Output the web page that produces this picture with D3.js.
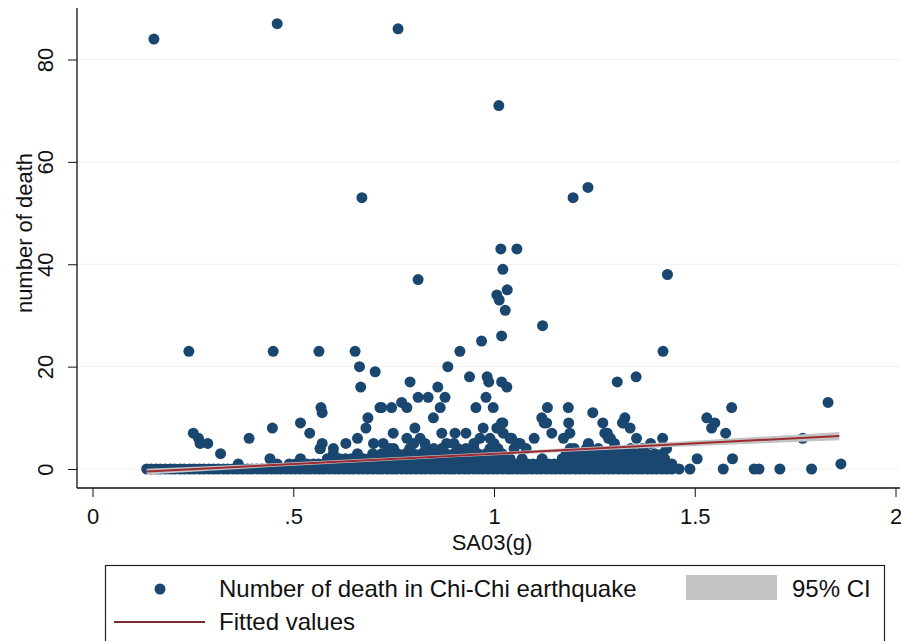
<!DOCTYPE html>
<html>
<head>
<meta charset="utf-8">
<title>SA03 vs deaths</title>
<script src="https://cdn.jsdelivr.net/npm/d3@7"></script>
<style>
  body { margin: 0; background: #fff; }
  text { font-family: Arial, "Liberation Sans", sans-serif; fill: #111; }
</style>
</head>
<body>
<script>
// values
var xTicks = [0, 0.5, 1, 1.5, 2];
var xTickLabels = ["0", ".5", "1", "1.5", "2"];
var yTicks = [0, 20, 40, 60, 80];

// scattered villages, [SA03(g), deaths]
var scatterPts = [
  [0.153,84],[0.46,87],[0.761,86],[1.012,71],[0.671,53],[1.197,53],[1.234,55],
  [1.017,43],[1.057,43],[1.022,39],[1.432,38],[0.811,37],[1.007,34],[1.033,35],
  [1.013,33],[1.028,31],[1.121,28],[1.019,26],[0.969,25],
  [0.24,23],[0.45,23],[0.564,23],[0.654,23],[1.421,23],[0.915,23],
  [0.665,20],[0.885,20],[0.704,19],[0.668,16],[0.939,18],[0.983,18],[1.354,18],
  [0.791,17],[0.987,17],[1.019,17],[1.032,16],[0.86,16],[1.307,17],
  [0.569,12],[0.572,11],[0.716,12],[0.72,12],[0.745,12],[0.783,12],[0.77,13],
  [0.811,14],[0.836,14],[0.878,14],[0.98,14],[0.866,12],[0.955,12],[0.998,12],
  [1.133,12],[1.185,12],[1.246,11],[1.592,12],[1.832,13],
  [0.251,7],[0.264,6],[0.268,5],[0.287,5],[0.319,3],[0.39,6],[0.448,8],[0.518,9],
  [0.541,7],[0.363,1],[0.567,4],[0.572,5],[0.6,4],[0.631,5],[0.66,6],
  [0.686,10],[0.681,8],[0.66,3],[0.849,10],[1.022,9],[0.973,8],[0.903,7],[0.93,7],
  [1.1,6],[1.061,5],[1.235,5],[1.119,10],[1.125,9],[1.186,9],[1.271,9],[1.282,7],
  [1.29,6],[1.53,10],[1.55,9],[1.542,8],[1.577,7],[1.326,10],[1.32,9],[1.339,8],
  [1.355,6],[1.281,7],[1.42,6],[1.769,6],[1.506,2],[1.594,2],[1.571,0],[1.648,0],
  [1.66,0],[1.712,0],[1.791,0],[1.864,1],[1.488,0],[1.461,0],
  [0.965,6],[1.007,8],[1.019,9],[1.023,7],[1.044,6],[1.065,5],[1.131,9],[1.144,7],
  [1.189,7],[1.173,6],[1.276,7],[1.285,6],[1.322,9],
  [0.724,5],[0.749,7],[0.783,6],[0.803,8],[0.816,6],[0.828,5],[0.87,7],[0.882,5],
  [0.99,6],[1.011,8],[1.04,6],[0.7,5],[0.74,4],[0.8,5],[0.85,4],[0.9,5],[0.93,4],
  [0.95,5],[1.0,5],[1.05,4],[1.08,4],[1.2,4],[1.24,4],[1.3,5],[1.34,4],[1.39,5],
  [1.43,4],[1.364,2],[1.33,3],[1.4,3]
];

// the packed band along the bottom: SA03 values at 0, 1, 2, 3 and 4 deaths
var band0 = [0.135,0.146,0.158,0.169,0.181,0.194,0.205,0.218,0.229,0.242,0.253,0.266,
  0.277,0.29,0.302,0.313,0.326,0.337,0.35,0.361,0.374,0.386,0.397,0.41,0.422,0.433,
  0.446,0.458,0.469,0.482,0.494,0.505,0.518,0.53,0.541,0.554,0.566,0.577,0.59,0.602,
  0.613,0.626,0.638,0.649,0.662,0.674,0.685,0.698,0.71,0.721,0.734,0.746,0.757,0.77,
  0.782,0.793,0.806,0.818,0.829,0.842,0.854,0.865,0.878,0.89,0.901,0.914,0.926,0.937,
  0.95,0.962,0.973,0.986,0.998,1.009,1.022,1.034,1.045,1.058,1.07,1.081,1.094,1.106,
  1.117,1.13,1.142,1.153,1.166,1.178,1.189,1.202,1.214,1.225,1.238,1.25,1.261,1.274,
  1.286,1.297,1.31,1.322,1.333,1.346,1.358,1.369,1.382,1.394,1.405,1.418,1.43,1.443];
var band1 = [0.46,0.49,0.505,0.52,0.535,0.55,0.563,0.577,0.59,0.603,0.616,0.63,0.643,
  0.656,0.67,0.683,0.697,0.71,0.723,0.737,0.75,0.763,0.777,0.79,0.803,0.817,0.83,0.843,
  0.857,0.87,0.883,0.897,0.91,0.923,0.937,0.95,0.963,0.977,0.99,1.003,1.017,1.03,1.043,
  1.057,1.07,1.083,1.097,1.11,1.123,1.137,1.15,1.163,1.177,1.19,1.203,1.217,1.23,1.243,
  1.257,1.27,1.283,1.297,1.31,1.323,1.337,1.35,1.363,1.377,1.39,1.403,1.417,1.43,1.443];
var band2 = [0.442,0.518,0.585,0.6,0.615,0.63,0.645,0.66,0.675,0.69,0.705,0.72,0.735,
  0.75,0.765,0.78,0.795,0.81,0.825,0.84,0.855,0.87,0.885,0.9,0.915,0.93,0.945,0.96,
  0.975,0.99,1.005,1.02,1.04,1.07,1.12,1.17,1.185,1.2,1.22,1.24,1.255,1.27,1.285,1.3,
  1.315,1.33,1.345,1.38,1.395,1.41,1.425];
var band3 = [0.6,0.698,0.72,0.74,0.76,0.78,0.8,0.82,0.84,0.86,0.88,0.9,0.92,0.94,0.96,
  0.98,1.0,1.02,1.18,1.2,1.22,1.25,1.27,1.29,1.31,1.326,1.345,1.36,1.38,1.42];
var band4 = [0.567,0.75,0.79,0.83,0.87,0.91,0.95,0.99,1.01,1.19,1.23,1.26,1.3,1.37];

// linear fit and its 95% band
var fitSA = [0.135, 1.86];
var fitDeaths = [-0.5, 6.45];
var ciSA = [0.135, 0.5, 0.9, 1.3, 1.86];
var ciLo = [-1.05, 0.62, 2.28, 3.79, 5.64];
var ciHi = [0.05, 1.32, 2.88, 4.59, 7.24];

var W = 901, H = 641;
var navy = "#1a476f", maroon = "#9e2a32", ciGray = "#c3c3c3";

var svg = d3.select("body").append("svg")
  .attr("width", W).attr("height", H);

var x = d3.scaleLinear().domain([0, 2]).range([92.5, 895.5]);
var y = d3.scaleLinear().domain([0, 80]).range([469, 59.5]);

// faint grid
svg.append("g").selectAll("line")
  .data(yTicks).enter().append("line")
    .attr("x1", 77).attr("x2", 900)
    .attr("y1", function(d) { return y(d); })
    .attr("y2", function(d) { return y(d); })
    .attr("stroke", "#f1f1f1").attr("stroke-width", 1);

// points
var pts = scatterPts.map(function(p) { return { sa: p[0], deaths: p[1] }; });
[band0, band1, band2, band3, band4].forEach(function(row, k) {
  row.forEach(function(v) { pts.push({ sa: v, deaths: k }); });
});

svg.append("g").selectAll("circle")
  .data(pts).enter().append("circle")
    .attr("cx", function(d) { return x(d.sa); })
    .attr("cy", function(d) { return y(d.deaths); })
    .attr("r", 5.5)
    .attr("fill", navy);

// ci band + fitted line, drawn over the points
var ciData = ciSA.map(function(v, i) { return { sa: v, lo: ciLo[i], hi: ciHi[i] }; });
svg.append("path")
  .datum(ciData)
  .attr("d", d3.area()
    .x(function(d) { return x(d.sa); })
    .y0(function(d) { return y(d.lo); })
    .y1(function(d) { return y(d.hi); })
    .curve(d3.curveMonotoneX))
  .attr("fill", ciGray);

var fitData = fitSA.map(function(v, i) { return { sa: v, deaths: fitDeaths[i] }; });
svg.append("path")
  .datum(fitData)
  .attr("d", d3.line()
    .x(function(d) { return x(d.sa); })
    .y(function(d) { return y(d.deaths); }))
  .attr("fill", "none")
  .attr("stroke", maroon)
  .attr("stroke-width", 2);

// axes
var yAxis = svg.append("g")
  .attr("transform", "translate(77,0)")
  .call(d3.axisLeft(y).tickValues(yTicks).tickSize(9).tickSizeOuter(0));
yAxis.select(".domain").remove();
yAxis.selectAll(".tick line").attr("stroke", "#111");
yAxis.selectAll(".tick text")
  .attr("transform", "rotate(-90)")
  .attr("x", 0).attr("y", -24).attr("dy", 0)
  .attr("text-anchor", "middle")
  .style("font-size", "22px");

var xAxis = svg.append("g")
  .attr("transform", "translate(0,488)")
  .call(d3.axisBottom(x).tickValues(xTicks).tickSize(9).tickSizeOuter(0)
    .tickFormat(function(d, i) { return xTickLabels[i]; }));
xAxis.select(".domain").remove();
xAxis.selectAll(".tick line").attr("stroke", "#111");
xAxis.selectAll(".tick text")
  .attr("y", 36).attr("dy", 0)
  .style("font-size", "22px");

svg.append("line").attr("x1", 77).attr("x2", 77).attr("y1", 8).attr("y2", 488)
  .attr("stroke", "#111").attr("stroke-width", 1.3);
svg.append("line").attr("x1", 77).attr("x2", 900).attr("y1", 488).attr("y2", 488)
  .attr("stroke", "#111").attr("stroke-width", 1.3);

// axis titles
svg.append("text")
  .attr("transform", "translate(32,233) rotate(-90)")
  .attr("text-anchor", "middle")
  .style("font-size", "22px")
  .text("number of death");
svg.append("text")
  .attr("x", 492).attr("y", 550)
  .attr("text-anchor", "middle")
  .style("font-size", "22px")
  .text("SA03(g)");

// legend
var leg = svg.append("g");
leg.append("rect")
  .attr("x", 105.5).attr("y", 565.5).attr("width", 779).attr("height", 100)
  .attr("fill", "#fff").attr("stroke", "#222").attr("stroke-width", 1.2);
leg.append("circle").attr("cx", 160).attr("cy", 589).attr("r", 5.5).attr("fill", navy);
leg.append("text").attr("x", 219).attr("y", 597).style("font-size", "24px")
  .text("Number of death in Chi-Chi earthquake");
leg.append("rect").attr("x", 686).attr("y", 575).attr("width", 91).attr("height", 25)
  .attr("fill", ciGray);
leg.append("text").attr("x", 792).attr("y", 597).style("font-size", "24px")
  .text("95% CI");
leg.append("line").attr("x1", 114).attr("x2", 205).attr("y1", 622).attr("y2", 622)
  .attr("stroke", "#7d2b30").attr("stroke-width", 2);
leg.append("text").attr("x", 219).attr("y", 630).style("font-size", "24px")
  .text("Fitted values");
</script>
</body>
</html>
